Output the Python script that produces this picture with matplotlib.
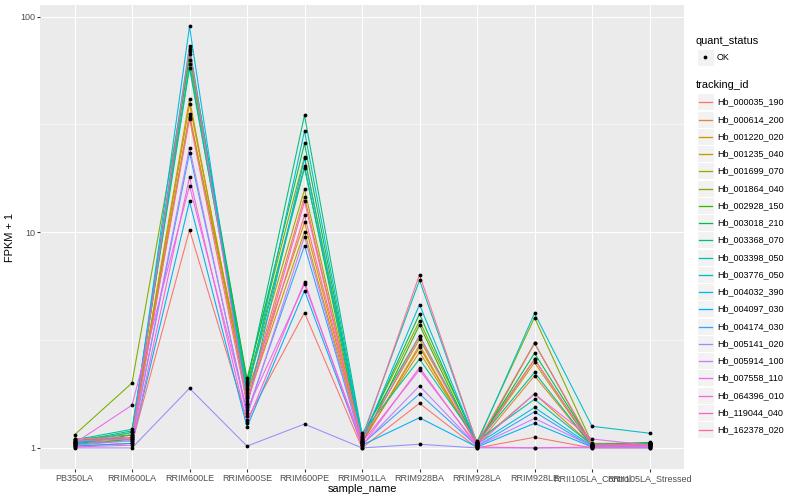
#!/usr/bin/env python3
"""
FPKM + 1 per sample for 20 tracking ids, ggplot-like look.
Saves out.png (800x500).
"""
import matplotlib
matplotlib.use('Agg')
import matplotlib.pyplot as plt
from matplotlib.patches import Rectangle
from matplotlib.lines import Line2D
import numpy as np

plt.rcParams['font.family'] = ['Liberation Sans', 'DejaVu Sans']

samples = ["PB350LA", "RRIM600LA", "RRIM600LE", "RRIM600SE", "RRIM600PE",
           "RRIM901LA", "RRIM928BA", "RRIM928LA", "RRIM928LE",
           "RRII105LA_Control", "RRII105LA_Stressed"]

tracking_ids = ["Hb_000035_190", "Hb_000614_200", "Hb_001220_020", "Hb_001235_040",
                "Hb_001699_070", "Hb_001864_040", "Hb_002928_150", "Hb_003018_210",
                "Hb_003368_070", "Hb_003398_050", "Hb_003776_050", "Hb_004032_390",
                "Hb_004097_030", "Hb_004174_030", "Hb_005141_020", "Hb_005914_100",
                "Hb_007558_110", "Hb_064396_010", "Hb_119044_040", "Hb_162378_020"]

# ggplot default hue palette for 20 levels
colors = ["#F8766D", "#EA8331", "#D89000", "#C09B00", "#A3A500", "#7CAE00",
          "#39B600", "#00BB4E", "#00BF7D", "#00C1A3", "#00BFC4", "#00BAE0",
          "#00B0F6", "#35A2FF", "#9590FF", "#C77CFF", "#E76BF3", "#FA62DB",
          "#FF62BC", "#FF6C91"]

# FPKM + 1, one row per tracking id, columns follow `samples`
fpkm1 = [
    [1.02, 1.05, 10.25, 1.35,  4.24, 1.00, 1.61, 1.00, 1.12, 1.00, 1.00],
    [1.05, 1.10, 35.3,  1.70, 14.6,  1.05, 3.00, 1.03, 2.16, 1.02, 1.03],
    [1.08, 1.12, 39.2,  1.80, 11.1,  1.08, 2.78, 1.05, 1.78, 1.03, 1.05],
    [1.10, 1.15, 41.5,  1.65, 10.07, 1.06, 2.93, 1.04, 2.49, 1.02, 1.04],
    [1.06, 1.18, 34.3,  1.90, 15.8,  1.10, 3.19, 1.06, 2.58, 1.03, 1.05],
    [1.15, 2.00, 63.0,  2.10, 22.4,  1.12, 3.88, 1.07, 4.02, 1.05, 1.05],
    [1.03, 1.10, 67.0,  1.95, 20.2,  1.05, 3.72, 1.02, 3.06, 1.03, 1.04],
    [1.04, 1.15, 69.5,  2.05, 25.8,  1.10, 4.18, 1.04, 2.75, 1.04, 1.06],
    [1.07, 1.20, 57.6,  2.00, 34.9,  1.15, 3.31, 1.06, 2.24, 1.02, 1.05],
    [1.09, 1.22, 60.0,  1.85, 19.8,  1.17, 2.58, 1.08, 1.68, 1.03, 1.04],
    [1.05, 1.18, 73.0,  1.75, 29.5,  1.12, 5.99, 1.05, 4.21, 1.26, 1.17],
    [1.06, 1.12, 90.0,  1.55, 22.0,  1.08, 4.62, 1.04, 1.54, 1.02, 1.03],
    [1.02, 1.05, 13.9,  1.25,  5.36, 1.03, 1.38, 1.01, 1.30, 1.01, 1.01],
    [1.04, 1.08, 23.4,  1.45,  8.67, 1.04, 1.78, 1.02, 1.47, 1.01, 1.02],
    [1.00, 1.00, 1.89,  1.02,  1.29, 1.00, 1.04, 1.00, 1.00, 1.00, 1.00],
    [1.03, 1.08, 24.7,  1.40,  9.55, 1.03, 1.94, 1.02, 1.37, 1.02, 1.02],
    [1.05, 1.58, 16.4,  1.50,  5.75, 1.06, 2.30, 1.03, 1.78, 1.10, 1.03],
    [1.01, 1.03, 18.0,  1.30,  5.90, 1.02, 2.36, 1.01, 1.00, 1.01, 1.01],
    [1.08, 1.10, 71.0,  1.60, 13.9,  1.07, 3.31, 1.03, 2.58, 1.02, 1.03],
    [1.10, 1.12, 33.5,  1.60, 12.0,  1.09, 6.36, 1.05, 3.06, 1.04, 1.04],
]

y_ticks = [1, 10, 100]
y_ticklabels = ["1", "10", "100"]

fig = plt.figure(figsize=(800 / 72, 500 / 72), dpi=72)
ax = fig.add_axes([40 / 800, 31 / 500, 644 / 800, 463.6 / 500])
ax.set_facecolor('#EBEBEB')
for s in ax.spines.values():
    s.set_visible(False)

x = np.arange(len(samples))
data = np.array(fpkm1)

for i, tid in enumerate(tracking_ids):
    ax.plot(x, data[i], color=colors[i], lw=1.07, zorder=3)
for i in range(len(tracking_ids)):
    ax.plot(x, data[i], 'o', color='black', ms=3.8, mew=0, zorder=4)

ax.set_yscale('log')
lo, hi = np.log10(data.min()), np.log10(data.max())
pad = (hi - lo) * 0.05
ax.set_ylim(10 ** (lo - pad), 10 ** (hi + pad))
ax.set_xlim(-0.6, len(samples) - 0.4)

# grid: majors white, minors halfway in log space
ax.set_yticks(y_ticks)
ax.set_yticklabels(y_ticklabels)
ax.yaxis.set_minor_locator(matplotlib.ticker.NullLocator())
for m in [10 ** 0.5, 10 ** 1.5]:
    ax.axhline(m, color='white', lw=0.55, zorder=1)
for t in y_ticks:
    ax.axhline(t, color='white', lw=1.07, zorder=1.5)
for xi in x:
    ax.axvline(xi, color='white', lw=1.07, zorder=1.5)

ax.set_xticks(x)
ax.set_xticklabels(samples)
ax.tick_params(axis='both', colors='#333333', length=2.75, width=1.07,
               labelsize=9, labelcolor='#4D4D4D', pad=2.2)
ax.set_xlabel('sample_name', fontsize=11, labelpad=1)
ax.set_ylabel('FPKM + 1', fontsize=11, labelpad=5)

# legend drawn by hand in pixel space
lg = fig.add_axes([0, 0, 1, 1], facecolor='none')
lg.set_xlim(0, 800)
lg.set_ylim(500, 0)
lg.axis('off')

lg.text(696, 41, 'quant_status', fontsize=11, va='center', ha='left')
lg.add_patch(Rectangle((696.5, 48.5), 17, 17, facecolor='#F2F2F2', edgecolor='white', lw=1))
lg.plot([705], [57], 'o', color='black', ms=3.8, mew=0)
lg.text(717, 57, 'OK', fontsize=9, va='center', ha='left')

lg.text(696, 84.5, 'tracking_id', fontsize=11, va='center', ha='left')
for i, tid in enumerate(tracking_ids):
    yc = round(101.3 + i * 17.25) + 0.5
    lg.add_patch(Rectangle((696.5, yc - 8.6), 17, 17.25, facecolor='#F2F2F2',
                           edgecolor='white', lw=1, zorder=1))
    lg.add_line(Line2D([698.5, 711.5], [yc, yc], color=colors[i], lw=1.3, zorder=3))
    lg.text(717, yc, tid, fontsize=9, va='center', ha='left')

fig.savefig('out.png', dpi=72)
